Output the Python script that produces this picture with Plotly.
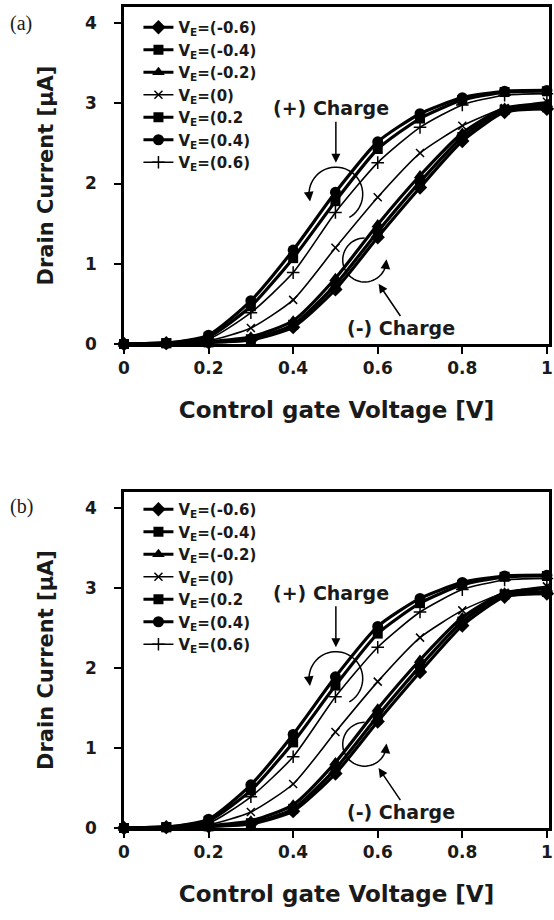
import numpy as np
import plotly.graph_objects as go

# ---------------- data ----------------
VG = [0.0, 0.1, 0.2, 0.3, 0.4, 0.5, 0.6, 0.7, 0.8, 0.9, 1.0]
VE_labels = ["V<sub>E</sub>=(-0.6)", "V<sub>E</sub>=(-0.4)", "V<sub>E</sub>=(-0.2)",
             "V<sub>E</sub>=(0)", "V<sub>E</sub>=(0.2", "V<sub>E</sub>=(0.4)", "V<sub>E</sub>=(0.6)"]
ID_m06 = [0, 0.01, 0.02, 0.05, 0.21, 0.68, 1.33, 1.95, 2.53, 2.89, 2.93]
ID_m04 = [0, 0.01, 0.02, 0.06, 0.24, 0.74, 1.40, 2.02, 2.58, 2.92, 2.95]
ID_m02 = [0, 0.01, 0.03, 0.09, 0.29, 0.82, 1.49, 2.10, 2.63, 2.94, 2.99]
ID_0 = [0, 0.01, 0.04, 0.20, 0.55, 1.20, 1.83, 2.38, 2.72, 2.94, 3.02]
ID_p02 = [0, 0.01, 0.09, 0.47, 1.07, 1.78, 2.43, 2.81, 3.04, 3.14, 3.15]
ID_p04 = [0, 0.01, 0.11, 0.54, 1.17, 1.89, 2.52, 2.87, 3.07, 3.15, 3.16]
ID_p06 = [0, 0.01, 0.06, 0.39, 0.89, 1.64, 2.26, 2.70, 2.98, 3.10, 3.12]
series = [ID_m06, ID_m04, ID_m02, ID_0, ID_p02, ID_p04, ID_p06]

# styles
symbols = ["diamond", "square", "triangle-up", "x-thin", "square", "circle", "cross-thin"]
widths = [3.2, 3.2, 3.2, 1.6, 3.2, 3.2, 1.6]
msizes = [11, 10, 11, 8, 10, 11, 9]

X_TICKS = [0, 0.2, 0.4, 0.6, 0.8, 1]
X_TICKTEXT = ["0", "0.2", "0.4", "0.6", "0.8", "1"]
Y_TICKS = [0, 1, 2, 3, 4]

fig = go.Figure()
FONT = "DejaVu Sans, Verdana, sans-serif"
SERIF = "Liberation Serif, DejaVu Serif, serif"
TXT = "#1a1a1a"

for panel, (xa, ya, leg) in enumerate([("x", "y", "legend"), ("x2", "y2", "legend2")]):
    for lab, vals, sym, w, ms in zip(VE_labels, series, symbols, widths, msizes):
        thin = sym in ("x-thin", "cross-thin")
        fig.add_trace(go.Scatter(
            x=VG, y=vals, xaxis=xa, yaxis=ya, legend=leg, name=lab,
            mode="lines+markers", cliponaxis=False,
            line=dict(color="black", width=w, shape="spline", smoothing=0.6),
            marker=dict(symbol=sym, size=ms, color="black",
                        line=dict(color="black", width=1.5 if thin else 0)),
        ))

# pixel scale helpers for decorations (px per data unit)
SX, SY = 425.0, 80.25


def arc(cx, cy, r, t0, t1, n=40):
    t = np.radians(np.linspace(t0, t1, n))
    xs = cx + r * np.cos(t) / SX
    ys = cy + r * np.sin(t) / SY
    return xs, ys


shapes = []
annotations = []
for xr, yr in [("x", "y"), ("x2", "y2")]:
    for (cx, cy, r, t0, t1, th_tail, th_head) in [
        (0.501, 1.868, 27, 180, -60, 180, 196),
        (0.569, 1.047, 22, 90, 345, 345, 362),
    ]:
        xs, ys = arc(cx, cy, r, t0, t1)
        path = "M " + " L ".join(f"{a:.5f},{b:.5f}" for a, b in zip(xs, ys))
        shapes.append(dict(type="path", path=path, xref=xr, yref=yr,
                           line=dict(color="black", width=1.5)))
        hx, hy = arc(cx, cy, r, th_head, th_head, 1)
        tx, ty = arc(cx, cy, r, th_tail, th_tail, 1)
        annotations.append(dict(x=hx[0], y=hy[0], ax=tx[0], ay=ty[0], xref=xr, yref=yr,
                                axref=xr, ayref=yr, text="", showarrow=True,
                                arrowhead=2, arrowsize=1.3, arrowwidth=1.5, arrowcolor="black"))
    annotations.append(dict(x=0.501, y=2.26, ax=0.501, ay=2.79, xref=xr, yref=yr,
                            axref=xr, ayref=yr, text="", showarrow=True,
                            arrowhead=2, arrowsize=1.2, arrowwidth=1.5, arrowcolor="black"))
    annotations.append(dict(x=0.602, y=0.75, ax=0.656, ay=0.33, xref=xr, yref=yr,
                            axref=xr, ayref=yr, text="", showarrow=True,
                            arrowhead=2, arrowsize=1.2, arrowwidth=1.5, arrowcolor="black"))
    annotations.append(dict(x=0.489, y=2.94, xref=xr, yref=yr, text="<b>(+) Charge</b>",
                            showarrow=False, font=dict(family=FONT, size=19, color=TXT)))
    annotations.append(dict(x=0.654, y=0.20, xref=xr, yref=yr, text="<b>(-) Charge</b>",
                            showarrow=False, font=dict(family=FONT, size=19, color=TXT)))

PLOT_H = 920 - 7 - 92
annotations.append(dict(x=-0.272, y=1.0 - 17 / PLOT_H, xref="paper", yref="paper", text="(a)",
                        showarrow=False, xanchor="left", yanchor="middle",
                        font=dict(family=SERIF, size=20, color=TXT)))
annotations.append(dict(x=-0.272, y=(828 - 506) / PLOT_H, xref="paper", yref="paper", text="(b)",
                        showarrow=False, xanchor="left", yanchor="middle",
                        font=dict(family=SERIF, size=20, color=TXT)))

axis_common = dict(showgrid=False, zeroline=False, showline=True, linecolor="black", linewidth=2.5,
                   mirror=True, ticks="outside", ticklen=7, tickwidth=2, tickcolor="black",
                   automargin=False, ticklabeloverflow="allow",
                   tickfont=dict(family=FONT, size=17, color=TXT, weight="bold"))

xaxis = dict(axis_common, range=[0, 1.005], tickvals=X_TICKS, ticktext=X_TICKTEXT,
             title=dict(text="<b>Control gate Voltage [V]</b>", font=dict(family=FONT, size=23, color=TXT),
                        standoff=25))
yaxis = dict(axis_common, range=[0, 4.2], tickvals=Y_TICKS, ticklabelstandoff=14,
             title=dict(text="<b>Drain Current [μA]</b>", font=dict(family=FONT, size=21, color=TXT),
                        standoff=26))

legend_common = dict(font=dict(family=FONT, size=15, color=TXT, weight="bold"),
                     bgcolor="rgba(0,0,0,0)", borderwidth=0, xanchor="left", yanchor="top",
                     tracegroupgap=0, itemwidth=30)

fig.update_layout(
    width=554, height=920, paper_bgcolor="white", plot_bgcolor="white",
    margin=dict(l=124, r=5, t=7, b=92, autoexpand=False),
    showlegend=True,
    xaxis=dict(xaxis, domain=[0, 1], anchor="y"),
    yaxis=dict(yaxis, domain=[(828 - 344) / PLOT_H, 1], anchor="x"),
    xaxis2=dict(xaxis, domain=[0, 1], anchor="y2"),
    yaxis2=dict(yaxis, domain=[0, (828 - 492) / PLOT_H], anchor="x2"),
    legend=dict(legend_common, x=0.034, y=1.0 - 4 / PLOT_H),
    legend2=dict(legend_common, x=0.034, y=(828 - 493) / PLOT_H),
    shapes=shapes, annotations=annotations,
)

fig.write_html("out.html", config={"displayModeBar": False},
               post_script="document.body.style.margin='0';")
